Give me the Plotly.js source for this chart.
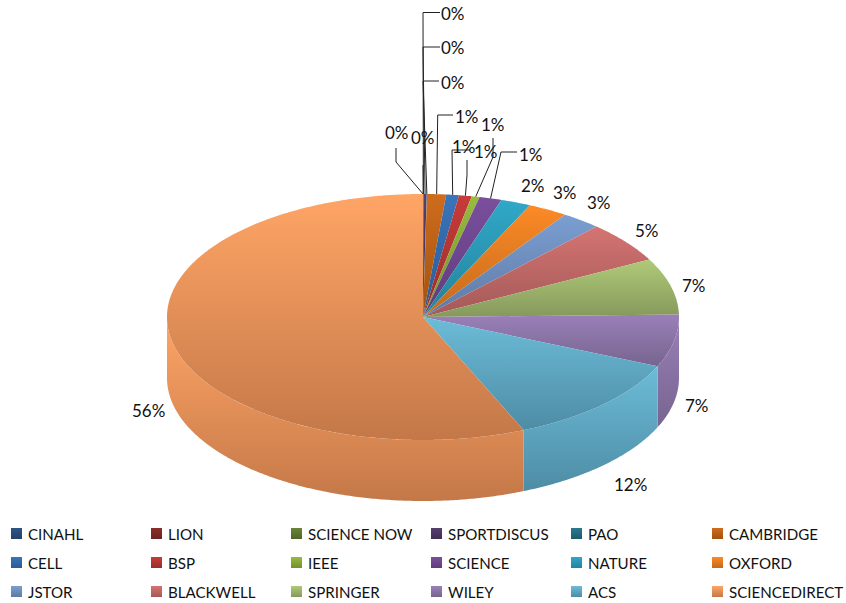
<!DOCTYPE html>
<html>
<head>
<meta charset="utf-8">
<script src="https://cdn.plot.ly/plotly-3.0.1.min.js"></script>
<style>html,body{margin:0;padding:0;background:#fff}#chart{width:846px;height:603px}</style>
</head>
<body>
<div id="chart"></div>
<script>
// ---- data ----
var categories = ["CINAHL","LION","SCIENCE NOW","SPORTDISCUS","PAO","CAMBRIDGE",
                  "CELL","BSP","IEEE","SCIENCE","NATURE","OXFORD",
                  "JSTOR","BLACKWELL","SPRINGER","WILEY","ACS","SCIENCEDIRECT"];
var values = [0.01,0.01,0.01,0.2,0.02,1.2,0.8,0.8,0.5,1.4,1.9,2.5,2.5,5.4,7.4,6.9,12,56.4];

// ---- style ----
var topColors = ["#2f5488","#8a2f2c","#6b8436","#55406f","#2a7a90","#cf6c1c",
                 "#3a74ba","#c63c39","#98bb3e","#7a4f9e","#30a8c8","#fc8a26",
                 "#7b9ed2","#d47472","#afca78","#9a80b8","#6cbcd8","#ffa566"];
var botColors = ["#234069","#6b2321","#4f6528","#3f2f52","#1f5a6c","#a0520f",
                 "#2c5a90","#992d2b","#759030","#5e3c7a","#24829b","#c26a1c",
                 "#5f7aa3","#a35958","#86995c","#77648f","#4e8ca5","#c47848"];

// ---- geometry of the drawing ----
var CX = 423, CY = 317, RX = 256, RY = 123, DEPTH = 61;
var legendX = [16.5,156.5,296.5,436.5,576.5,717.5];
var legendY = [533.5,562.5,591.5];
var labelXY = [[397,132],[423,137],[453,13],[453,47],[453,82],[467,116],
               [464,146],[486,151],[493,124],[531,154],[533,185],[565,192],
               [599,202],[647,230],[694,285],[697,405],[630,484],[148,410]];
var leaderBends = [
  [[396,162],[396,148]],
  [[423,165]],
  [[423,12.5],[440,12.5]],
  [[423,47],[440,47]],
  [[423,81],[439,81]],
  [[437.7,115],[453,115]],
  [[452,150],[470,150]],
  [[467,175],[467,160]],
  [[493,157],[493,138]],
  [[501,152],[517,152]],
  null,null,null,null,null,null,null,null];

function px(t){return CX+RX*Math.sin(t*Math.PI/180);}
function py(t,d){return CY-RY*Math.cos(t*Math.PI/180)+(d||0);}
function arc(a,b,d){
  var xs=[],ys=[],n=Math.max(2,Math.ceil(Math.abs(b-a)/0.5)+1);
  for(var i=0;i<n;i++){var t=a+(b-a)*i/(n-1);xs.push(px(t));ys.push(py(t,d));}
  return {x:xs,y:ys};
}
var total = values.reduce(function(s,v){return s+v;},0);
var traces=[],topTraces=[],annotations=[],lines=[];
var cum=0;
categories.forEach(function(name,i){
  var a=cum/total*360; cum+=values[i]; var b=cum/total*360;
  var grad={type:'vertical',colorscale:[[0,botColors[i]],[1,topColors[i]]]};
  // outer wall: only the part of the rim facing the viewer
  var s=Math.max(a,90),e=Math.min(b,270);
  if(e>s){
    var u=arc(s,e,0),l=arc(e,s,DEPTH);
    traces.push({type:'scatter',mode:'none',name:name+' side',x:u.x.concat(l.x),y:u.y.concat(l.y),
      fill:'toself',fillgradient:grad,hoverinfo:'skip',showlegend:false});
  }
  // top face
  var c=arc(a,b,0);
  topTraces.push({type:'scatter',mode:'none',name:name,x:[CX].concat(c.x,[CX]),y:[CY].concat(c.y,[CY]),
    fill:'toself',fillgradient:grad,hoverinfo:'name',showlegend:false});
  // percent label
  annotations.push({x:labelXY[i][0],y:labelXY[i][1],xref:'x',yref:'y',showarrow:false,
    text:Math.round(values[i]/total*100)+'%',font:{family:'Lato',size:17,color:'#111'},xanchor:'center',yanchor:'middle'});
  // leader
  if(leaderBends[i]){
    var m=(a+b)/2,lx=[px(m)],ly=[py(m,0)];
    leaderBends[i].forEach(function(p){lx.push(p[0]);ly.push(p[1]);});
    lines.push({type:'scatter',mode:'lines',x:lx,y:ly,line:{color:'#222',width:1},hoverinfo:'skip',showlegend:false});
  }
  // legend entry
  var col=i%6,row=Math.floor(i/6);
  traces.push({type:'scatter',mode:'markers',x:[legendX[col]],y:[legendY[row]],hoverinfo:'skip',showlegend:false,
    marker:{symbol:'square',size:11,color:topColors[i],gradient:{type:'vertical',color:botColors[i]}}});
  annotations.push({x:legendX[col]+11,y:legendY[row]+0.5,xref:'x',yref:'y',showarrow:false,text:name,
    font:{family:'Lato',size:15.1,color:'#111'},xanchor:'left',yanchor:'middle',xshift:-2});
});
var layout={
  width:846,height:603,margin:{l:0,r:0,t:0,b:0},paper_bgcolor:'#fff',plot_bgcolor:'#fff',showlegend:false,
  xaxis:{range:[0,846],visible:false,fixedrange:true},
  yaxis:{range:[603,0],visible:false,fixedrange:true},
  annotations:annotations
};
Plotly.newPlot('chart',traces.concat(topTraces,lines),layout,{displayModeBar:false,staticPlot:true});
</script>
</body>
</html>
